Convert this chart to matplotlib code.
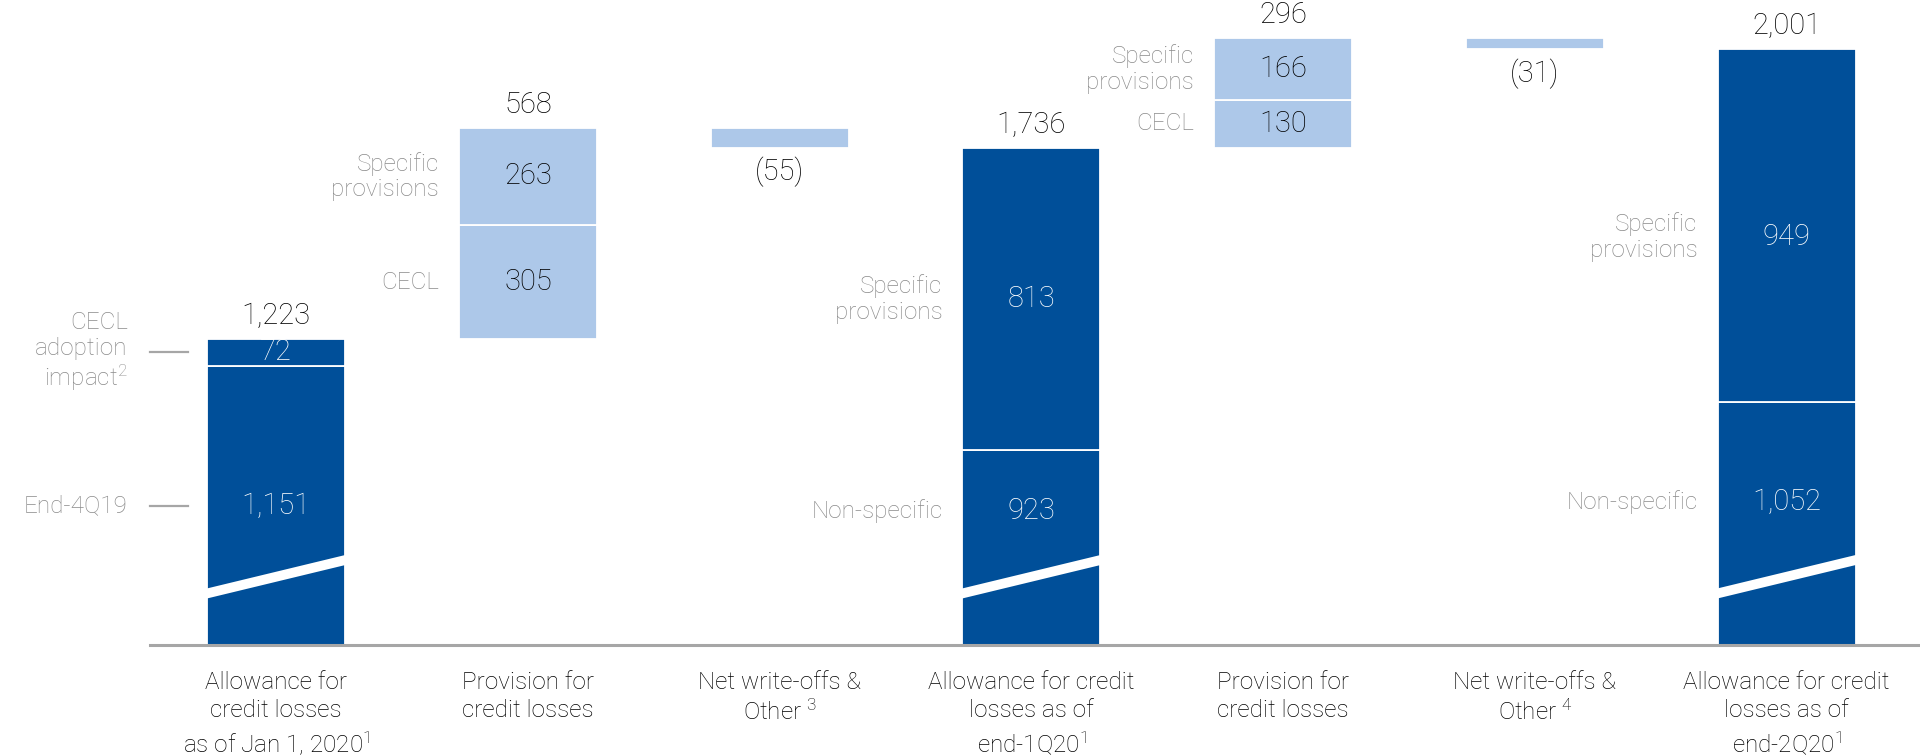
import matplotlib
matplotlib.use("Agg")
import matplotlib.pyplot as plt
from matplotlib.patches import Polygon

plt.rcParams['font.family'] = ['Roboto', 'DejaVu Sans']
plt.rcParams['mathtext.default'] = 'regular'

#%% data

categories = ["Allowance for\ncredit losses\nas of Jan 1, 2020$^1$",
              "Provision for\ncredit losses",
              "Net write-offs &\nOther $^3$",
              "Allowance for credit\nlosses as of\nend-1Q20$^1$",
              "Provision for\ncredit losses",
              "Net write-offs &\nOther $^4$",
              "Allowance for credit\nlosses as of\nend-2Q20$^1$"]

end_4q19 = 1151
cecl_adoption = 72
prov_1q = [305, 263]          # CECL, specific provisions
writeoffs_1q = -55
end_1q = [923, 813]           # non-specific, specific provisions
prov_2q = [130, 166]          # CECL, specific provisions
writeoffs_2q = -31
end_2q = [1052, 949]          # non-specific, specific provisions

dark = '#004f99'
light = '#adc8e9'
grey = '#8a8a8a'
wt = 'light'

#%% layout

fig = plt.figure(figsize=(19.2, 7.55), dpi=100)
ax = fig.add_axes([0, 0.1457, 1, 0.8543])
ax.set_xlim(-1.097, 6.53)
ax.set_ylim(400, 2134)
ax.axis('off')

w = 0.548
fs_val = 21
fs_lab = 17.5


def seg(x, bottom, h, color, txt=None, tcol='black', ty=None):
    ax.bar(x, h, w, bottom=bottom, color=color, edgecolor='white', linewidth=1.3)
    if txt is not None:
        y = bottom + h / 2 if ty is None else ty
        ax.text(x, y, txt, color=tcol, fontsize=fs_val, ha='center', va='center',
                fontweight=wt)


def total(x, y, txt, below=False):
    off = -24 if below else 23
    ax.annotate(txt, (x, y), xytext=(0, off / 1.389), textcoords='offset points',
                ha='center', va='center', fontsize=fs_val, fontweight=wt)


def side(x, y, txt):
    ax.annotate(txt, (x - w / 2, y), xytext=(-20 / 1.389, 0), textcoords='offset points',
                ha='right', va='center', fontsize=fs_lab, color=grey,
                fontweight=wt, linespacing=1.15)


def brk(x):
    # white slanted gap marking the broken axis
    lo, hi, t = 537, 630, 13.5
    pts = [(x - w / 2 - 0.01, lo - t), (x + w / 2 + 0.01, hi - t),
           (x + w / 2 + 0.01, hi + t), (x - w / 2 - 0.01, lo + t)]
    ax.add_patch(Polygon(pts, closed=True, facecolor='white', edgecolor='none', zorder=3))


low_label_y = 775

# allowance as of Jan 1, 2020
start = end_4q19 + cecl_adoption
seg(0, 0, end_4q19, dark, f"{end_4q19:,}", 'white', low_label_y)
seg(0, end_4q19, cecl_adoption, dark, f"{cecl_adoption}", 'white')
brk(0)
total(0, start, f"{start:,}")
ax.plot([-0.5, -0.35], [low_label_y, low_label_y], color='#a6a6a6', lw=1.6)
ax.plot([-0.5, -0.35], [end_4q19 + cecl_adoption / 2] * 2, color='#a6a6a6', lw=1.6)
ax.text(-0.59, low_label_y, "End-4Q19", ha='right', va='center', fontsize=fs_lab,
        color=grey, fontweight=wt)
ax.text(-0.59, end_4q19 + cecl_adoption / 2, "CECL\nadoption\nimpact$^2$", ha='right',
        va='center', fontsize=fs_lab, color=grey, fontweight=wt, linespacing=1.15)

# provision 1Q20
b = start
seg(1, b, prov_1q[0], light, f"{prov_1q[0]}")
seg(1, b + prov_1q[0], prov_1q[1], light, f"{prov_1q[1]}")
total(1, b + sum(prov_1q), f"{sum(prov_1q):,}")
side(1, b + prov_1q[0] / 2, "CECL")
side(1, b + prov_1q[0] + prov_1q[1] / 2, "Specific\nprovisions")

# net write-offs 1Q20
b = start + sum(prov_1q)
seg(2, b + writeoffs_1q, -writeoffs_1q, light)
total(2, b + writeoffs_1q, f"({-writeoffs_1q})", below=True)

# allowance end-1Q20
t1 = sum(end_1q)
seg(3, 0, end_1q[0], dark, f"{end_1q[0]:,}", 'white', low_label_y - 15)
seg(3, end_1q[0], end_1q[1], dark, f"{end_1q[1]:,}", 'white')
brk(3)
total(3, t1, f"{t1:,}")
side(3, low_label_y - 15, "Non-specific")
side(3, end_1q[0] + end_1q[1] / 2, "Specific\nprovisions")

# provision 2Q20
b = t1
seg(4, b, prov_2q[0], light, f"{prov_2q[0]}")
seg(4, b + prov_2q[0], prov_2q[1], light, f"{prov_2q[1]}")
total(4, b + sum(prov_2q), f"{sum(prov_2q):,}")
side(4, b + prov_2q[0] / 2, "CECL")
side(4, b + prov_2q[0] + prov_2q[1] / 2, "Specific\nprovisions")

# net write-offs 2Q20
b = t1 + sum(prov_2q)
seg(5, b + writeoffs_2q, -writeoffs_2q, light)
total(5, b + writeoffs_2q, f"({-writeoffs_2q})", below=True)

# allowance end-2Q20
t2 = sum(end_2q)
seg(6, 0, end_2q[0], dark, f"{end_2q[0]:,}", 'white', low_label_y + 10)
seg(6, end_2q[0], end_2q[1], dark, f"{end_2q[1]:,}", 'white', end_2q[0] + end_2q[1] / 2 - 30)
brk(6)
total(6, t2, f"{t2:,}")
side(6, low_label_y + 10, "Non-specific")
side(6, end_2q[0] + end_2q[1] / 2 - 30, "Specific\nprovisions")

# baseline
ax.plot([-0.5, 6.6], [400, 400], color='#a6a6a6', lw=2.2, clip_on=False, zorder=4)

# category labels
for i, c in enumerate(categories):
    ax.annotate(c, (i, 400), xytext=(0, -26 / 1.389), textcoords='offset points',
                ha='center', va='top', fontsize=fs_lab, fontweight=wt,
                linespacing=1.3, annotation_clip=False)

fig.savefig('out.png', dpi=100)
